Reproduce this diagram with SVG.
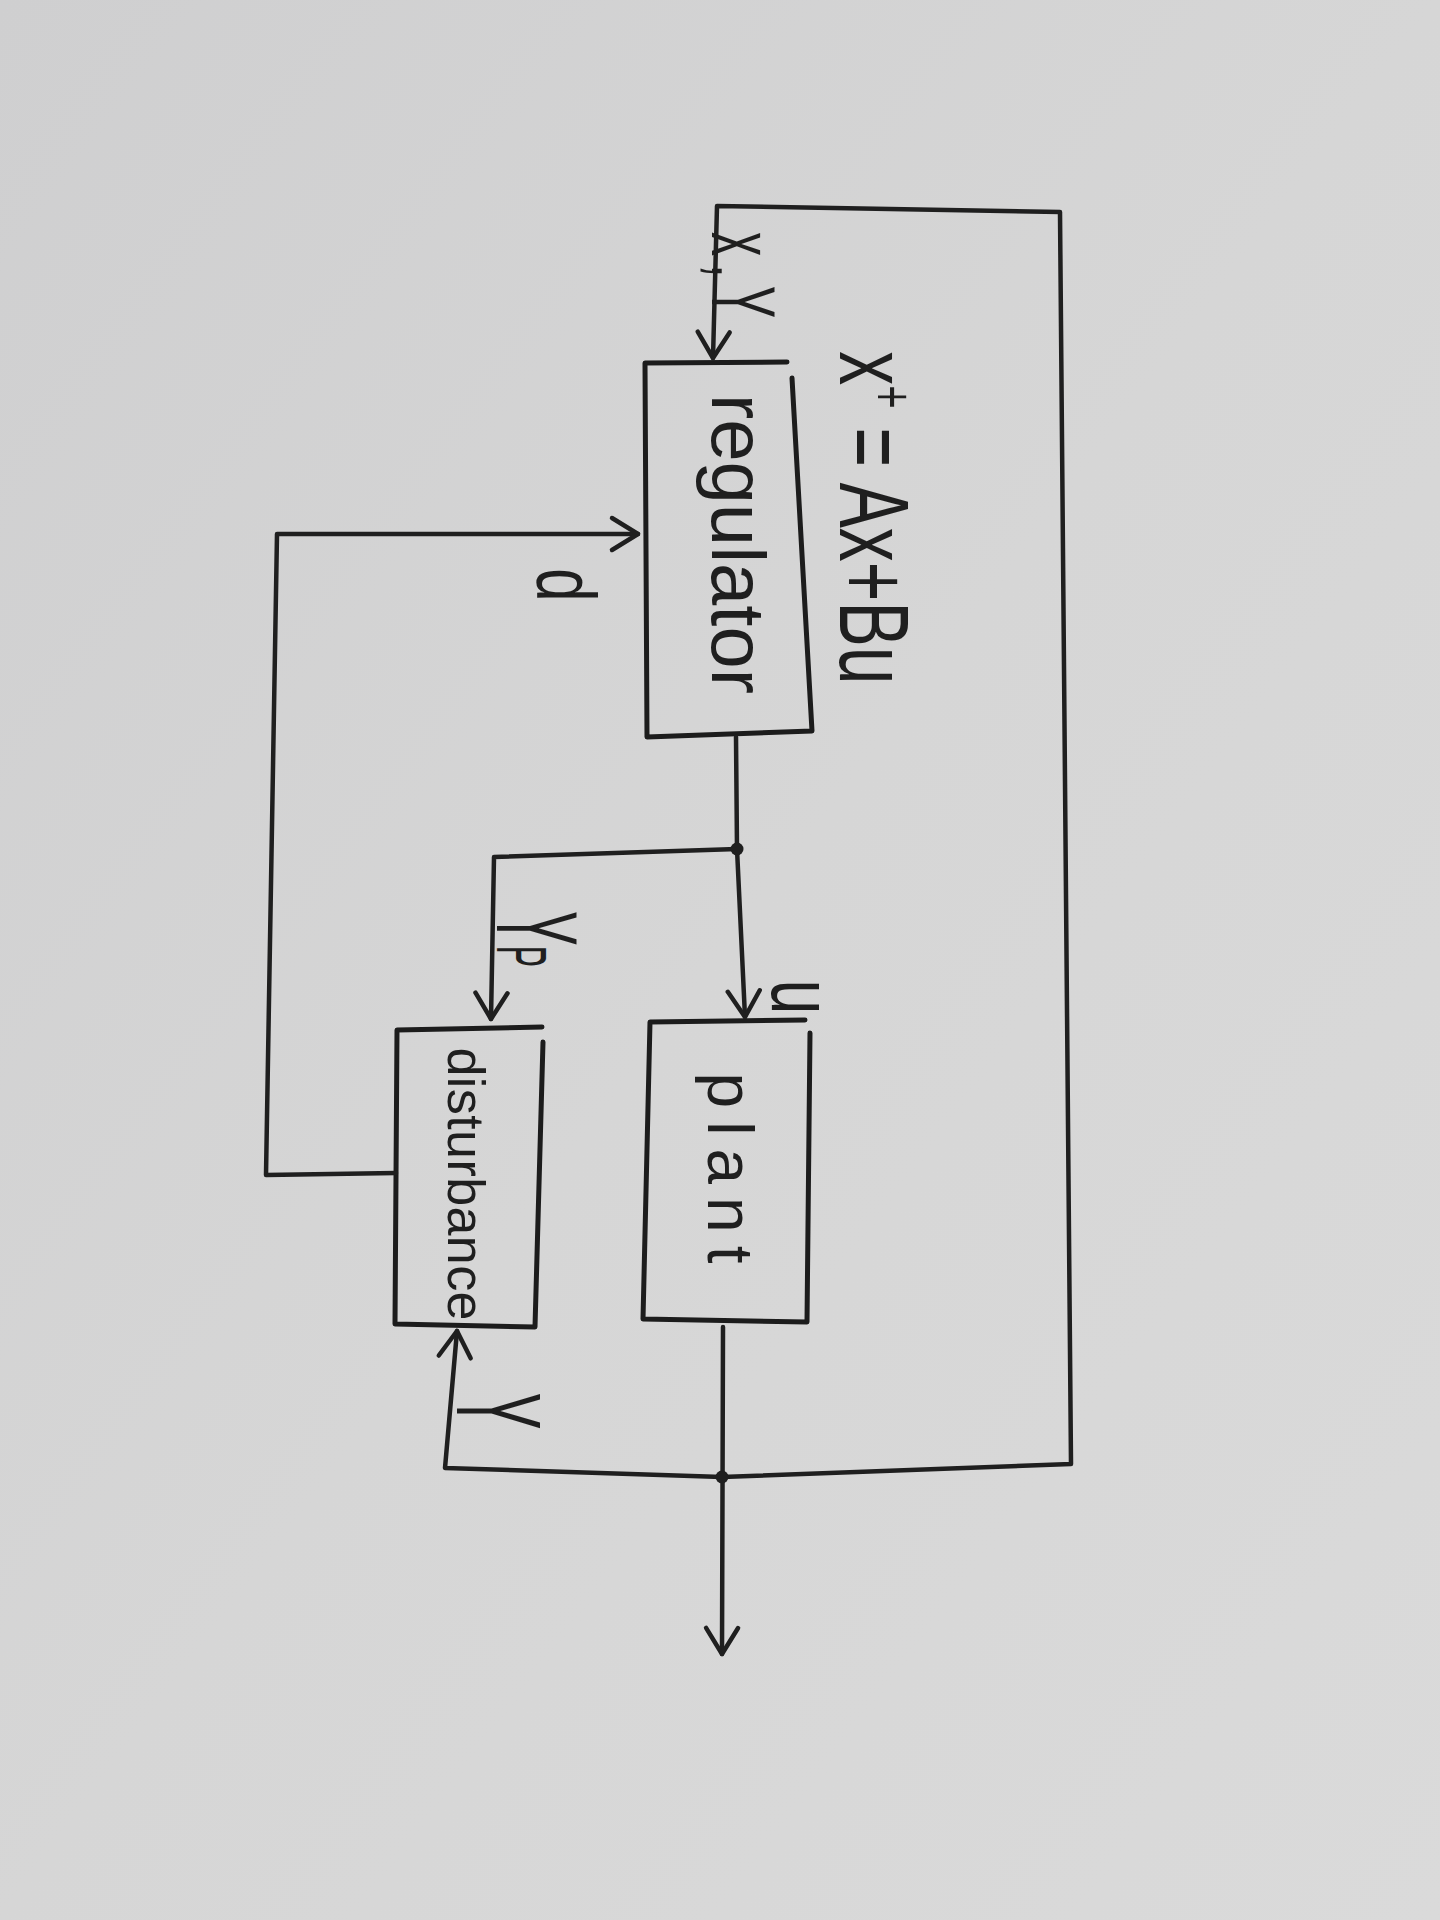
<svg xmlns="http://www.w3.org/2000/svg" width="1440" height="1920" viewBox="0 0 1440 1920">
  <defs>
    <linearGradient id="paper" x1="0" y1="0" x2="1" y2="1">
      <stop offset="0" stop-color="#cfcfd0"/>
      <stop offset="0.5" stop-color="#d6d6d6"/>
      <stop offset="1" stop-color="#dadada"/>
    </linearGradient>
    <marker id="chev" viewBox="-30 -20 34 40" markerWidth="34" markerHeight="40" refX="0" refY="0" orient="auto" markerUnits="userSpaceOnUse">
      <path d="M -26 -16 L 0 0 L -26 16" fill="none" stroke="#1f1f1f" stroke-width="4.5" stroke-linecap="round" stroke-linejoin="round"/>
    </marker>
    <style>
      .ink { fill: none; stroke: #1f1f1f; stroke-width: 4.5; stroke-linecap: round; stroke-linejoin: round; }
      .box { fill: none; stroke: #1c1c1c; stroke-width: 5; stroke-linecap: round; stroke-linejoin: round; }
      .lbl { font-family: "Liberation Sans", "DejaVu Sans", sans-serif; fill: #1f1f1f; }
      .dot { fill: #1f1f1f; }
    </style>
  </defs>

  <!-- paper -->
  <rect x="0" y="0" width="1440" height="1920" fill="url(#paper)"/>

  <!-- blocks -->
  <g id="regulator">
    <path class="box" d="M 787 362 L 645 363 L 647 737 L 812 731 L 792 378"/>
    <text class="lbl" transform="translate(712,544) rotate(90)" font-size="76" text-anchor="middle" textLength="300" lengthAdjust="spacing">regulator</text>
  </g>

  <g id="plant">
    <path class="box" d="M 805 1020 L 650 1022 L 643 1319 L 807 1322 L 810 1033"/>
    <text class="lbl" transform="translate(708,1168) rotate(90)" font-size="64" text-anchor="middle" textLength="191" lengthAdjust="spacing">plant</text>
  </g>

  <g id="disturbance">
    <path class="box" d="M 542 1027 L 397 1030 L 395 1324 L 535 1327 L 543 1042"/>
    <text class="lbl" transform="translate(448,1184) rotate(90)" font-size="52" text-anchor="middle" textLength="273" lengthAdjust="spacing">disturbance</text>
  </g>

  <!-- state equation -->
  <g id="equation">
    <text class="lbl" transform="translate(840,518) rotate(90) scale(1,1.45)" font-size="68" text-anchor="middle">x<tspan font-size="40" baseline-shift="super">+</tspan> = Ax+Bu</text>
  </g>

  <!-- connectors -->
  <g id="connectors">
    <!-- outer loop: output back to regulator input -->
    <path class="ink" d="M 722 1477 L 1071 1464 L 1060 212 L 717 206 L 713 358" marker-end="url(#chev)"/>
    <!-- disturbance estimate d back to regulator -->
    <path class="ink" d="M 396 1173 L 266 1175 L 277 534 L 638 534" marker-end="url(#chev)"/>
    <!-- regulator output u to plant -->
    <path class="ink" d="M 736 737 L 737 849 L 745 1017" marker-end="url(#chev)"/>
    <!-- u branch to disturbance as Yp -->
    <path class="ink" d="M 737 849 L 494 857 L 491 1019" marker-end="url(#chev)"/>
    <!-- plant output -->
    <path class="ink" d="M 723 1327 L 722 1654" marker-end="url(#chev)"/>
    <!-- measured Y into disturbance -->
    <path class="ink" d="M 722 1477 L 445 1468 L 457 1331" marker-end="url(#chev)"/>
    <circle class="dot" cx="737" cy="849" r="6.5"/>
    <circle class="dot" cx="722" cy="1477" r="6.5"/>

    <!-- signal labels -->
    <text class="lbl" transform="translate(712,275) rotate(90) scale(1,1.9)" font-size="48" text-anchor="middle" textLength="86" lengthAdjust="spacing">x,Y</text>
    <text class="lbl" transform="translate(537,585) rotate(90) scale(1,1.4)" font-size="60" text-anchor="middle">d</text>
    <text class="lbl" transform="translate(772,997) rotate(90) scale(1,1.45)" font-size="62" text-anchor="middle">u</text>
    <text class="lbl" transform="translate(497,939) rotate(90) scale(1,2.2)" font-size="52" text-anchor="middle">Y<tspan font-size="32">P</tspan></text>
    <text class="lbl" transform="translate(457,1411) rotate(90) scale(1,2.2)" font-size="55" text-anchor="middle">Y</text>
  </g>
</svg>
